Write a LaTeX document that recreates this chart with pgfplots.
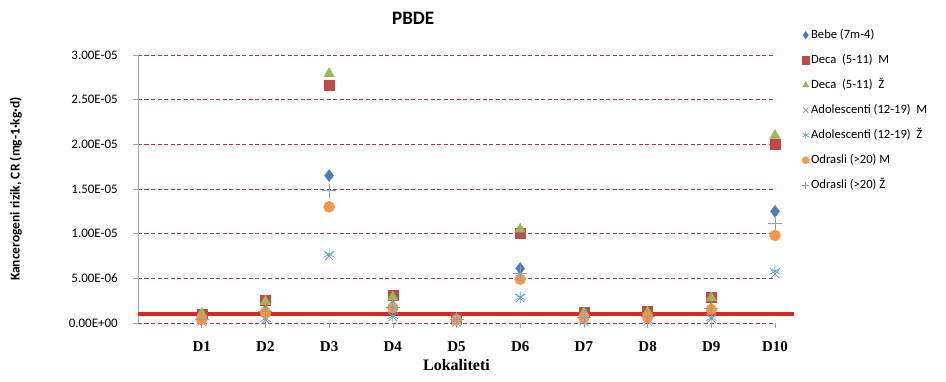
\documentclass[border=0pt]{standalone}
\usepackage{pgfplots}
\pgfplotsset{compat=1.18}
\usepackage{pgfplotstable}
\usepackage{fontspec}
\setmainfont{Carlito}
\newfontfamily\camb{Liberation Serif}

\definecolor{bebe}{HTML}{4A7EBB}
\definecolor{decam}{HTML}{BE4B48}
\definecolor{decaz}{HTML}{98B954}
\definecolor{adolm}{HTML}{8B7DB8}
\definecolor{adolz}{HTML}{4BACC6}
\definecolor{odrm}{HTML}{F79646}
\definecolor{odrz}{HTML}{7F9ED0}
\definecolor{gridred}{HTML}{A83C3A}
\definecolor{limitred}{HTML}{E02424}

% values, x = location D1..D10
\pgfplotstableread{
x bebe   decam  decaz  adolm  adolz  odrm   odrz
1 0.6e-6 1.0e-6 1.05e-6 0.15e-6 0.2e-6 0.4e-6 0.45e-6
2 1.4e-6 2.6e-6 2.4e-6 0.35e-6 0.5e-6 1.2e-6 1.3e-6
3 16.5e-6 26.6e-6 27.9e-6 7.5e-6 7.7e-6 13.0e-6 14.8e-6
4 1.9e-6 3.1e-6 2.9e-6 0.7e-6 0.8e-6 1.7e-6 1.8e-6
5 0.4e-6 0.5e-6 0.45e-6 0.1e-6 0.15e-6 0.35e-6 0.4e-6
6 6.1e-6 10.0e-6 10.5e-6 2.8e-6 2.9e-6 4.9e-6 5.6e-6
7 0.7e-6 1.2e-6 1.15e-6 0.2e-6 0.3e-6 0.6e-6 0.65e-6
8 0.7e-6 1.3e-6 1.2e-6 0.2e-6 0.3e-6 0.65e-6 0.7e-6
9 1.6e-6 2.9e-6 2.8e-6 0.5e-6 0.6e-6 1.5e-6 1.6e-6
10 12.5e-6 20.0e-6 21.0e-6 5.5e-6 5.8e-6 9.8e-6 11.2e-6
}\data

\begin{document}
\begin{tikzpicture}
\path[use as bounding box] (0,0) rectangle (946pt,381pt);
\begin{axis}[
  at={(138pt,58pt)}, anchor=south west,
  scale only axis, width=637pt, height=268pt,
  xmin=0, xmax=10, ymin=0, ymax=3e-5,
  clip=false,
  axis lines*=left,
  x axis line style={draw=none},
  y axis line style={draw=gray!70, line width=0.8pt},
  xtick={1,2,3,4,5,6,7,8,9,10},
  xticklabels={D1,D2,D3,D4,D5,D6,D7,D8,D9,D10},
  ytick={0,5e-6,1e-5,1.5e-5,2e-5,2.5e-5,3e-5},
  yticklabels={0.00E+00,5.00E-06,1.00E-05,1.50E-05,2.00E-05,2.50E-05,3.00E-05},
  scaled y ticks=false,
  tick align=outside, major tick length=5pt,
  tick style={gray!70, line width=0.6pt},
  ymajorgrids,
  grid style={gridred, line width=0.9pt, dash pattern=on 4pt off 2.5pt},
  yticklabel style={font=\fontsize{13}{15}\selectfont, inner sep=0pt, anchor=east, xshift=-15pt},
  xticklabel style={font=\camb\bfseries\fontsize{15}{17}\selectfont, inner sep=0pt, anchor=north, yshift=-13pt},
  xlabel={\camb\bfseries\fontsize{16}{18}\selectfont Lokaliteti},
  xlabel style={at={(axis description cs:0.5,-0.157)}, anchor=center},
  ylabel={\bfseries\fontsize{13.5}{15}\selectfont Kancerogeni rizik, CR (mg-1·kg·d)},
  ylabel style={at={(axis description cs:-0.192,0.5)}, anchor=center},
  title={\bfseries\fontsize{19}{21}\selectfont PBDE},
  title style={at={(axis description cs:0.432,1.116)}, anchor=center},
  legend style={at={(axis description cs:1.041,1.101)}, anchor=north west,
    draw=none, fill=none, font=\fontsize{12.6}{14}\selectfont,
    row sep=11pt, inner sep=0pt,
    nodes={inner sep=1pt, text height=9pt, text depth=3pt}},
  legend cell align=left,
  legend image code/.code={\path (0pt,0pt) (8pt,0pt); \draw[#1, mark size=3.6pt] plot coordinates {(4pt,0pt)};},
]
\addplot[only marks, mark=diamond*, color=bebe, mark size=6pt] table[x=x, y=bebe] {\data};
\addplot[only marks, mark=square*, color=decam, mark size=5pt] table[x=x, y=decam] {\data};
\addplot[only marks, mark=triangle*, color=decaz, mark size=6pt] table[x=x, y=decaz] {\data};
\addplot[only marks, mark=x, color=adolm, mark size=6pt, line width=0.7pt] table[x=x, y=adolm] {\data};
\addplot[only marks, mark=asterisk, color=adolz, mark size=6pt, line width=0.7pt] table[x=x, y=adolz] {\data};
\addplot[only marks, mark=*, color=odrm, mark size=5.5pt] table[x=x, y=odrm] {\data};
\addplot[only marks, mark=+, color=odrz, mark size=7pt, line width=0.8pt] table[x=x, y=odrz] {\data};
\legend{Bebe (7m-4), Deca\ \ (5-11)\ \ M, Deca\ \ (5-11)\ \ Ž, Adolescenti (12-19)\ \ M, Adolescenti (12-19)\ \ Ž, Odrasli (>20) M, Odrasli (>20) Ž}
\addplot[limitred, line width=3.5pt, forget plot] coordinates {(0,1e-6) (10.3,1e-6)};
\end{axis}
\end{tikzpicture}
\end{document}
